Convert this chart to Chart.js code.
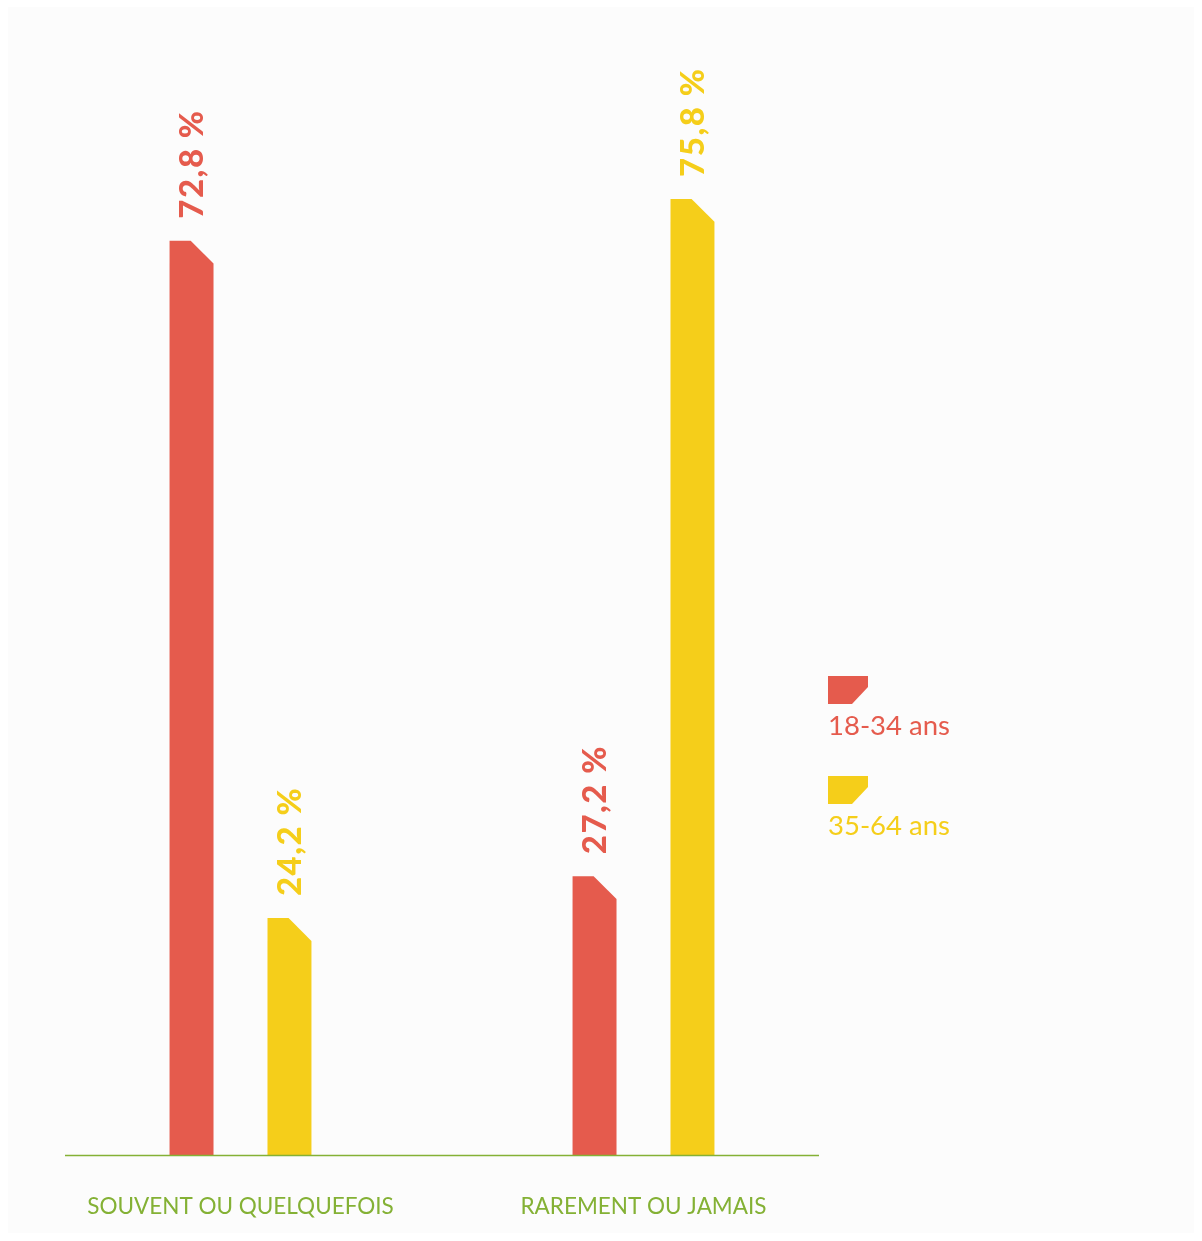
<!DOCTYPE html>
<html>
<head>
<meta charset="utf-8">
<script src="https://cdn.jsdelivr.net/npm/chart.js@4.4.1/dist/chart.umd.min.js"></script>
<style>
  html, body { margin: 0; padding: 0; background: #ffffff; }
  #panel { position: absolute; left: 8px; top: 7px; width: 1186px; height: 1226px; background: #fcfcfc; }
  #wrap { position: absolute; left: 0; top: 0; width: 1202px; height: 1241px; }
</style>
</head>
<body>
<div id="panel"></div>
<div id="wrap"><canvas id="c" width="1202" height="1241"></canvas></div>
<script>
// ---- data ----
const categories = ['SOUVENT OU QUELQUEFOIS', 'RAREMENT OU JAMAIS'];
const seriesLabels = ['18-34 ans', '35-64 ans'];
const values1834 = [72.8, 27.2];
const values3564 = [24.2, 75.8];
const seriesColors = ['#e55b4d', '#f5ce1a'];
const axisColor = '#84b135';

const FONT = 'Lato, "Open Sans", sans-serif';

function fmt(v) { return v.toFixed(1).replace('.', ',') + ' %'; }

const cutBars = {
  id: 'cutBars',
  beforeDatasetDraw(chart, args) {
    const ctx = chart.ctx;
    const ds = chart.data.datasets[args.index];
    const bottom = chart.chartArea.bottom;
    ctx.save();
    ctx.fillStyle = ds.backgroundColor;
    args.meta.data.forEach(bar => {
      const p = bar.getProps(['x', 'y', 'base', 'width'], true);
      const b = Math.min(p.base, bottom);
      const l = p.x - p.width / 2, r = p.x + p.width / 2;
      const c = p.width * 0.52;
      ctx.beginPath();
      ctx.moveTo(l, b);
      ctx.lineTo(l, p.y);
      ctx.lineTo(r - c, p.y);
      ctx.lineTo(r, p.y + c);
      ctx.lineTo(r, b);
      ctx.closePath();
      ctx.fill();
    });
    ctx.restore();
    return false;
  },
  afterDatasetsDraw(chart) {
    const ctx = chart.ctx;
    const area = chart.chartArea;
    // baseline
    ctx.save();
    ctx.strokeStyle = axisColor;
    ctx.lineWidth = 1.5;
    ctx.beginPath();
    ctx.moveTo(area.left + 26, area.bottom + 0.5);
    ctx.lineTo(area.right - 26, area.bottom + 0.5);
    ctx.stroke();
    ctx.restore();
    // value labels
    chart.data.datasets.forEach((ds, di) => {
      const meta = chart.getDatasetMeta(di);
      meta.data.forEach((bar, i) => {
        const p = bar.getProps(['x', 'y'], true);
        ctx.save();
        ctx.translate(p.x + 1, p.y - 22);
        ctx.rotate(-Math.PI / 2);
        ctx.fillStyle = ds.backgroundColor;
        ctx.font = '900 33px ' + FONT;
        ctx.textAlign = 'left';
        ctx.textBaseline = 'middle';
        if ('letterSpacing' in ctx) ctx.letterSpacing = '1.5px';
        ctx.fillText(fmt(ds.data[i]), 0, 0);
        ctx.restore();
      });
    });
    // legend
    const lx = area.right - 17;
    const tops = [676, 776];
    chart.data.datasets.forEach((ds, di) => {
      const ty = tops[di];
      ctx.save();
      ctx.fillStyle = ds.backgroundColor;
      ctx.beginPath();
      ctx.moveTo(lx, ty);
      ctx.lineTo(lx + 40, ty);
      ctx.lineTo(lx + 40, ty + 11);
      ctx.lineTo(lx + 24, ty + 28);
      ctx.lineTo(lx, ty + 28);
      ctx.closePath();
      ctx.fill();
      ctx.font = '27.5px ' + FONT;
      ctx.textAlign = 'left';
      ctx.textBaseline = 'alphabetic';
      ctx.fillText(ds.label, lx, ty + 59);
      ctx.restore();
    });
  }
};

new Chart(document.getElementById('c'), {
  type: 'bar',
  data: {
    labels: categories,
    datasets: [
      { label: seriesLabels[0], data: values1834, backgroundColor: seriesColors[0] },
      { label: seriesLabels[1], data: values3564, backgroundColor: seriesColors[1] }
    ]
  },
  options: {
    responsive: false,
    animation: false,
    devicePixelRatio: 1,
    layout: { padding: { left: 39, right: 357, top: 40, bottom: 0 } },
    datasets: { bar: { categoryPercentage: 0.486, barPercentage: 0.449 } },
    plugins: { legend: { display: false }, tooltip: { enabled: false } },
    scales: {
      y: { display: false, min: 7.2, max: 87.2 },
      x: {
        grid: { display: false, drawTicks: false },
        border: { display: false },
        ticks: { color: axisColor, font: { family: FONT, size: 22.5 }, padding: 38, maxRotation: 0 },
        afterFit(scale) { scale.height = 86; }
      }
    }
  },
  plugins: [cutBars]
});
</script>
</body>
</html>
